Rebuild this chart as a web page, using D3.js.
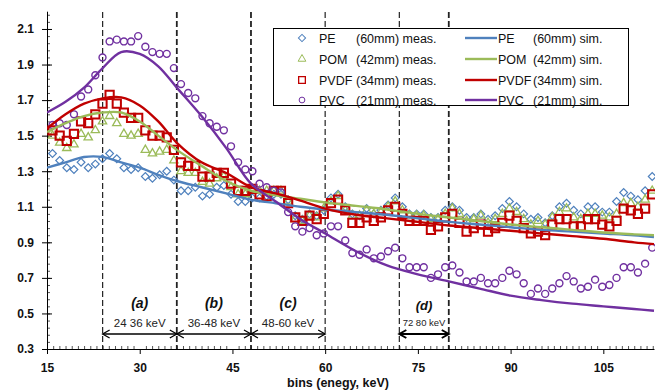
<!DOCTYPE html>
<html>
<head>
<meta charset="utf-8">
<script src="https://cdn.jsdelivr.net/npm/d3@7"></script>
<style>
  body { margin: 0; background: #fff; }
  text { font-family: "Liberation Sans", Arial, sans-serif; }
</style>
</head>
<body>
<script>
// measured bins (keV)
const binsKeV = [15.89,17.05,18.20,19.36,20.51,21.67,22.82,23.98,25.13,26.29,
  27.44,28.60,29.75,30.91,32.06,33.22,34.37,35.53,36.68,37.84,
  38.99,40.15,41.30,42.46,43.61,44.77,45.92,47.08,48.23,49.39,
  50.54,51.70,52.85,54.01,55.16,56.32,57.47,58.63,59.78,60.94,
  62.09,63.25,64.40,65.56,66.71,67.87,69.02,70.18,71.33,72.49,
  73.64,74.80,75.95,77.11,78.26,79.42,80.57,81.73,82.88,84.04,
  85.19,86.35,87.50,88.66,89.81,90.97,92.12,93.28,94.43,95.59,
  96.74,97.90,99.05,100.21,101.36,102.52,103.67,104.83,105.98,107.14,
  108.29,109.45,110.60,111.76,112.91];

const peMeas = [1.40,1.36,1.32,1.31,1.35,1.32,1.34,1.37,1.40,1.37,
  1.32,1.31,1.32,1.27,1.26,1.28,1.30,1.25,1.19,1.19,
  1.21,1.16,1.17,1.21,1.22,1.17,1.13,1.13,1.15,1.15,
  1.16,1.17,1.17,1.14,1.05,1.03,1.06,1.05,1.08,1.15,
  1.17,1.10,1.06,1.05,1.09,1.06,1.08,1.11,1.15,1.10,
  1.06,1.06,1.06,1.04,1.04,1.08,1.10,1.08,1.04,1.04,
  1.06,1.03,1.05,1.09,1.13,1.10,1.06,1.03,1.04,1.01,
  1.05,1.10,1.12,1.08,1.06,1.10,1.10,1.07,1.07,1.13,
  1.18,1.16,1.14,1.19,1.27];

const pomMeas = [1.50,1.46,1.43,1.45,1.51,1.49,1.53,1.58,1.61,1.57,
  1.51,1.50,1.51,1.42,1.40,1.41,1.42,1.36,1.30,1.29,
  1.29,1.24,1.23,1.26,1.27,1.21,1.17,1.17,1.20,1.19,
  1.19,1.19,1.19,1.13,1.03,1.02,1.05,1.04,1.09,1.13,
  1.16,1.08,1.05,1.05,1.08,1.06,1.07,1.10,1.13,1.08,
  1.05,1.05,1.05,1.03,1.03,1.06,1.09,1.06,1.02,1.03,
  1.05,1.01,1.03,1.06,1.09,1.07,1.03,1.00,1.02,1.00,
  1.04,1.07,1.09,1.04,1.03,1.06,1.06,1.05,1.04,1.06,
  1.12,1.12,1.10,1.14,1.19];

const pvdfMeas = [1.53,1.50,1.47,1.51,1.58,1.57,1.62,1.68,1.73,1.68,
  1.63,1.60,1.60,1.53,1.50,1.50,1.49,1.42,1.35,1.33,
  1.33,1.27,1.27,1.29,1.29,1.23,1.19,1.19,1.20,1.17,
  1.16,1.19,1.19,1.12,1.04,1.02,1.05,1.03,1.06,1.12,
  1.14,1.08,1.01,1.01,1.04,1.02,1.04,1.08,1.10,1.06,
  1.02,1.02,1.02,0.97,0.99,1.04,1.06,1.01,0.96,0.98,
  1.00,0.96,0.98,1.01,1.05,1.02,0.98,0.95,0.96,0.94,
  1.00,1.03,1.03,0.99,0.99,1.03,1.03,1.00,0.99,1.02,
  1.09,1.08,1.06,1.09,1.17];

const pvcMeas = [1.56,1.57,1.56,1.62,1.72,1.76,1.84,1.94,2.03,2.04,
  2.03,2.03,2.06,2.00,1.97,1.96,1.96,1.88,1.79,1.74,
  1.71,1.61,1.57,1.55,1.53,1.44,1.35,1.31,1.30,1.23,
  1.21,1.19,1.18,1.07,0.99,0.96,0.98,0.94,0.95,0.99,
  0.99,0.91,0.84,0.83,0.86,0.81,0.82,0.85,0.87,0.81,
  0.76,0.76,0.76,0.70,0.72,0.76,0.77,0.73,0.68,0.68,
  0.70,0.67,0.67,0.70,0.74,0.72,0.67,0.61,0.64,0.61,
  0.64,0.67,0.71,0.68,0.64,0.65,0.69,0.65,0.66,0.70,
  0.76,0.76,0.73,0.78,0.87];

// simulated curves
const simKeV = [15,18,21,24,27,30,33,36,40,44,48,52,56,60,65,70,75,80,85,90,95,100,105,110,113.2];
const peSim   = [1.32,1.35,1.38,1.38,1.35,1.32,1.28,1.245,1.21,1.175,1.14,1.12,1.10,1.085,1.07,1.055,1.035,1.015,1.00,0.985,0.97,0.96,0.95,0.94,0.93];
const pomSim  = [1.52,1.57,1.61,1.63,1.63,1.58,1.50,1.42,1.33,1.245,1.19,1.165,1.145,1.125,1.105,1.085,1.06,1.04,1.02,1.00,0.985,0.97,0.955,0.945,0.94];
const pvdfSim = [1.54,1.62,1.68,1.71,1.715,1.67,1.58,1.46,1.35,1.29,1.21,1.175,1.135,1.09,1.055,1.035,1.015,0.995,0.98,0.965,0.95,0.935,0.92,0.90,0.89];
const pvcSim  = [1.63,1.69,1.77,1.88,1.97,1.96,1.89,1.77,1.61,1.43,1.23,1.13,1.03,0.95,0.85,0.77,0.72,0.68,0.64,0.60,0.575,0.555,0.54,0.525,0.515];

const xTicks = [15,30,45,60,75,90,105];
const yTicks = [0.3,0.5,0.7,0.9,1.1,1.3,1.5,1.7,1.9,2.1];

const dividers = [24,36,48,60,72,80];
const heavyDividers = [36,48,80];
const bandFrom = [24,36,48,72];
const bandTo = [36,48,60,80];
const bandNames = ["(a)","(b)","(c)","(d)"];
const bandRanges = ["24 36 keV","36-48 keV","48-60 keV","72 80 keV"];

const seriesNames = ["PE", "POM", "PVDF", "PVC"];
const seriesThick = ["(60mm)", "(42mm)", "(34mm)", "(21mm)"];
const colors = ["#4f81bd", "#9bbb59", "#c00000", "#7030a0"];

const W = 655, H = 391;
const svg = d3.select("body").append("svg").attr("width", W).attr("height", H);

const x = d3.scaleLinear().domain([15, 113.2]).range([47, 654]);
const y = d3.scaleLinear().domain([0.3, 2.2]).range([349, 11.2]);

// minor ticks
svg.append("g")
  .attr("transform", "translate(0,349)")
  .call(d3.axisBottom(x).tickValues(d3.range(16, 114, 1).filter(d => d % 15 !== 0)).tickSize(-3).tickFormat(""))
  .call(g => g.select(".domain").remove())
  .selectAll("line").attr("stroke", "#555");
svg.append("g")
  .attr("transform", "translate(47,0)")
  .call(d3.axisLeft(y).tickValues(d3.range(0.34, 2.2, 0.04)).tickSize(-3).tickFormat(""))
  .call(g => g.select(".domain").remove())
  .selectAll("line").attr("stroke", "#555");

// dashed band dividers
svg.append("g").selectAll("line")
  .data(dividers)
  .enter()
  .append("line")
  .attr("x1", d => x(d)).attr("x2", d => x(d))
  .attr("y1", 12).attr("y2", 349)
  .attr("stroke", "#222")
  .attr("stroke-width", d => heavyDividers.includes(d) ? 1.8 : 1.2)
  .attr("stroke-dasharray", "6,3");

// main axes
const xAxis = svg.append("g")
  .attr("transform", "translate(0,349)")
  .call(d3.axisBottom(x).tickValues(xTicks).tickSize(5).tickSizeOuter(0).tickPadding(9));
const yAxis = svg.append("g")
  .attr("transform", "translate(47,0)")
  .call(d3.axisLeft(y).tickValues(yTicks).tickFormat(d3.format(".1f")).tickSize(5).tickSizeOuter(0).tickPadding(8));
[xAxis, yAxis].forEach(g => {
  g.select(".domain").attr("stroke", "#000");
  g.selectAll("line").attr("stroke", "#000");
  g.selectAll("text")
    .style("font-family", "'Liberation Sans', Arial, sans-serif")
    .style("font-size", "12px").style("font-weight", "bold").attr("fill", "#111");
});
yAxis.selectAll(".tick line").attr("x2", 5).attr("x1", -5);

svg.append("text")
  .attr("x", 338).attr("y", 387)
  .attr("text-anchor", "middle")
  .style("font-size", "12.5px").style("font-weight", "bold")
  .attr("fill", "#111")
  .text("bins (enegy, keV)");

// band annotations
const bands = svg.append("g");
bandFrom.forEach((f, i) => {
  const t = bandTo[i], x0 = x(f), x1 = x(t), xm = (x0 + x1) / 2;
  const small = i === 3;
  bands.append("text")
    .attr("x", xm).attr("y", small ? 310 : 308)
    .attr("text-anchor", "middle")
    .style("font-size", small ? "13px" : "14px")
    .style("font-weight", "bold").style("font-style", "italic")
    .attr("fill", "#111")
    .text(bandNames[i]);
  bands.append("text")
    .attr("x", xm).attr("y", small ? 326 : 327)
    .attr("text-anchor", "middle")
    .style("font-size", small ? "9.5px" : "11.5px")
    .attr("fill", "#222")
    .text(bandRanges[i]);
  const ya = 334, sw = small ? 2 : 1.3;
  bands.append("line").attr("x1", x0).attr("x2", x1).attr("y1", ya).attr("y2", ya)
    .attr("stroke", "#000").attr("stroke-width", sw);
  bands.append("path")
    .attr("d", `M${x0 + 7},${ya - 4}L${x0},${ya}L${x0 + 7},${ya + 4}M${x1 - 7},${ya - 4}L${x1},${ya}L${x1 - 7},${ya + 4}`)
    .attr("fill", "none").attr("stroke", "#000").attr("stroke-width", sw);
});

// marker shapes
const shapes = [
  { type: d3.symbolSquare, size: 30, rot: 45, sw: 1.2 },
  { type: d3.symbolTriangle, size: 30, rot: 0, sw: 1.3 },
  { type: d3.symbolSquare, size: 68, rot: 0, sw: 2 },
  { type: d3.symbolCircle, size: 38, rot: 0, sw: 1.4 }
];

svg.append("defs").append("clipPath").attr("id", "plot")
  .append("rect").attr("x", 47).attr("y", 0).attr("width", 608).attr("height", 349);

const plot = svg.append("g").attr("clip-path", "url(#plot)");
const measured = [peMeas, pomMeas, pvdfMeas, pvcMeas];
const simulated = [peSim, pomSim, pvdfSim, pvcSim];

measured.forEach((vals, s) => {
  const sh = shapes[s];
  plot.append("g").selectAll("path")
    .data(vals)
    .enter()
    .append("path")
    .attr("d", d3.symbol().type(sh.type).size(sh.size))
    .attr("transform", (d, i) => `translate(${x(binsKeV[i])},${y(d)}) rotate(${sh.rot})`)
    .attr("fill", "none")
    .attr("stroke", colors[s])
    .attr("stroke-width", sh.sw);
});

const line = d3.line()
  .x((d, i) => x(simKeV[i]))
  .y(d => y(d))
  .curve(d3.curveCatmullRom.alpha(0.5));

simulated.forEach((vals, s) => {
  plot.append("path")
    .datum(vals)
    .attr("d", line)
    .attr("fill", "none")
    .attr("stroke", colors[s])
    .attr("stroke-width", 2.4);
});

// legend
const lg = svg.append("g");
lg.append("rect").attr("x", 273.5).attr("y", 28.5).attr("width", 355).attr("height", 77)
  .attr("fill", "#fff").attr("stroke", "#000").attr("stroke-width", 1);
const rowY = [38, 59, 80, 100];
seriesNames.forEach((n, s) => {
  const yy = rowY[s], sh = shapes[s];
  lg.append("path")
    .attr("d", d3.symbol().type(sh.type).size(s === 2 ? 45 : 26))
    .attr("transform", `translate(302,${yy}) rotate(${sh.rot})`)
    .attr("fill", "none").attr("stroke", colors[s]).attr("stroke-width", s === 2 ? 1.3 : 1);
  lg.append("text").attr("x", 319).attr("y", yy + 4.5).style("font-size", "12.5px").attr("fill", "#111").text(n);
  lg.append("text").attr("x", 356).attr("y", yy + 4.5).style("font-size", "12.5px").attr("fill", "#111").text(seriesThick[s] + " meas.");
  lg.append("line").attr("x1", 465).attr("x2", 497).attr("y1", yy).attr("y2", yy)
    .attr("stroke", colors[s]).attr("stroke-width", 2.4);
  lg.append("text").attr("x", 498).attr("y", yy + 4.5).style("font-size", "12.5px").attr("fill", "#111").text(n);
  lg.append("text").attr("x", 533).attr("y", yy + 4.5).style("font-size", "12.5px").attr("fill", "#111").text(seriesThick[s] + " sim.");
});
</script>
</body>
</html>
